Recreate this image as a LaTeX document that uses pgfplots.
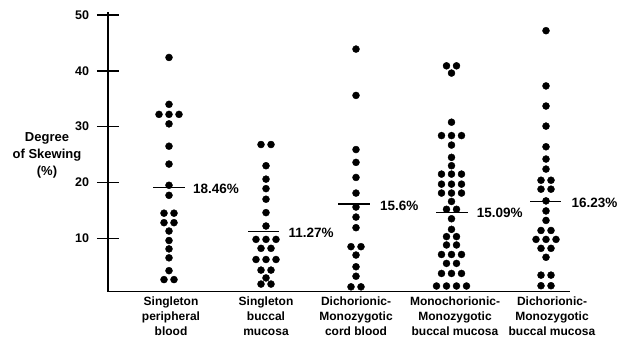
\documentclass[border=0pt]{standalone}
\usepackage{fontspec}
\setmainfont{Liberation Sans}
\usepackage{pgfplots}
\pgfplotsset{compat=1.18}
\begin{document}
\begin{tikzpicture}
\useasboundingbox (-108pt,-47.3pt) rectangle (510pt,291.7pt);
\begin{axis}[
  scale only axis, width=462pt, height=280pt,
  xmin=108, xmax=570, ymin=0.43, ymax=50.6,
  axis x line*=bottom, axis y line*=left,
  axis line style={line width=1.4pt, -},
  ytick={10,20,30,40,50},
  tick align=center, major tick length=22pt,
  ytick style={line width=1.4pt, black},
  xtick={171,266,356,455,552},
  xticklabels={{Singleton\\peripheral\\blood},{Singleton\\buccal\\mucosa},{Dichorionic-\\Monozygotic\\cord blood},{Monochorionic-\\Monozygotic\\buccal mucosa},{Dichorionic-\\Monozygotic\\buccal mucosa}},
  xtick style={draw=none},
  x tick label style={align=center, yshift=9pt, font=\fontsize{12}{15}\selectfont\bfseries},
  y tick label style={xshift=-4.5pt, font=\fontsize{12.5}{14}\selectfont\bfseries},
  /pgf/number format/assume math mode=true,
  clip=false,
]
% Singleton peripheral blood
\addplot[only marks, mark=*, mark size=3.5pt, black] table {
169 42.4
169 34.0
159 32.2
169 32.2
179 32.2
169 30.5
169 26.5
169 23.3
169 19.5
169 17.7
164 14.5
174 14.5
164 12.8
174 12.8
169 11.3
169 9.6
169 8.1
169 6.5
169 4.2
164 2.6
174 2.6
};
% Singleton buccal mucosa
\addplot[only marks, mark=*, mark size=3.5pt, black] table {
261 26.8
271 26.8
266 23.0
266 20.6
266 18.9
266 17.0
266 14.6
266 12.2
256 9.8
266 9.8
276 9.8
261 8.2
271 8.2
256 6.2
266 6.2
276 6.2
261 4.3
271 4.3
266 2.9
261 1.8
271 1.8
};
% Dichorionic-Monozygotic cord blood
\addplot[only marks, mark=*, mark size=3.5pt, black] table {
356 43.9
356 35.6
356 25.9
356 23.6
356 20.9
356 18.1
356 15.6
356 13.8
356 11.9
351 8.5
361 8.5
356 7.0
356 4.9
356 3.2
351 1.3
361 1.3
};
% Monochorionic-Monozygotic buccal mucosa
\addplot[only marks, mark=*, mark size=3.5pt, black] table {
446.5 40.9
456.5 40.9
451.5 39.6
451.5 30.8
441.5 28.4
451.5 28.4
461.5 28.4
451.5 26.7
451.5 24.5
451.5 23.0
441.5 21.5
451.5 21.5
461.5 21.5
441.5 19.7
451.5 19.7
461.5 19.7
441.5 18.1
451.5 18.1
461.5 18.1
451.5 16.6
446.5 15.2
456.5 15.2
451.5 13.5
451.5 11.6
446.5 10.3
456.5 10.3
446.5 8.8
456.5 8.8
441.5 7.1
451.5 7.1
461.5 7.1
446.5 5.5
456.5 5.5
441.5 3.7
451.5 3.7
461.5 3.7
436.5 1.45
446.5 1.45
456.5 1.45
466.5 1.45
};
% Dichorionic-Monozygotic buccal mucosa
\addplot[only marks, mark=*, mark size=3.5pt, black] table {
546 47.2
546 37.3
546 33.7
546 30.1
546 26.4
546 24.2
546 22.4
541 20.4
551 20.4
541 18.8
551 18.8
546 16.7
546 14.9
546 13.2
541 11.4
551 11.4
536 9.8
546 9.8
556 9.8
541 8.2
551 8.2
546 6.6
541 3.4
551 3.4
541 1.5
551 1.5
};
% mean lines
\addplot[black, line width=1.3pt] coordinates {(153.3,19.07) (185,19.07)};
\addplot[black, line width=1.3pt] coordinates {(248.3,11.18) (279.3,11.18)};
\addplot[black, line width=1.3pt] coordinates {(338.3,16.15) (370,16.15)};
\addplot[black, line width=1.3pt] coordinates {(436,14.59) (468.3,14.59)};
\addplot[black, line width=1.3pt] coordinates {(530,16.56) (560.7,16.56)};
\node[anchor=west, inner sep=0pt, font=\fontsize{13.5}{15}\selectfont\bfseries] at (axis cs:193,18.9) {18.46\%};
\node[anchor=west, inner sep=0pt, font=\fontsize{13.5}{15}\selectfont\bfseries] at (axis cs:288.3,11.0) {11.27\%};
\node[anchor=west, inner sep=0pt, font=\fontsize{13.5}{15}\selectfont\bfseries] at (axis cs:380,15.9) {15.6\%};
\node[anchor=west, inner sep=0pt, font=\fontsize{13.5}{15}\selectfont\bfseries] at (axis cs:476.7,14.55) {15.09\%};
\node[anchor=west, inner sep=0pt, font=\fontsize{13.5}{15}\selectfont\bfseries] at (axis cs:571.5,16.4) {16.23\%};
\node[align=center, inner sep=0pt, font=\fontsize{13}{17}\selectfont\bfseries] at (axis cs:47,24.9) {Degree\\of Skewing\\(\%)};
\end{axis}
\end{tikzpicture}
\end{document}
